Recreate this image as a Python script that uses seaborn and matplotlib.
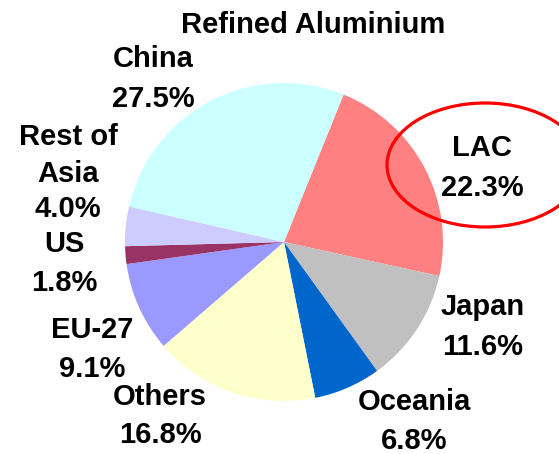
import matplotlib
matplotlib.use("Agg")
import matplotlib.pyplot as plt
import seaborn as sns
from matplotlib.patches import Ellipse

# ---- data ----
title = "Refined Aluminium"
regions = ["LAC", "Japan", "Oceania", "Others", "EU-27", "US", "Rest of\nAsia", "China"]
shares = [22.3, 11.6, 6.8, 16.8, 9.1, 1.8, 4.0, 27.5]
colors = ["#FF8080", "#C0C0C0", "#0066CC", "#FFFFCC", "#9999FF", "#993366", "#CCCCFF", "#CCFFFF"]

# ---- layout (pixel positions of label lines: x centre, baselines) ----
label_layout = {
    "LAC": (482, [156, 196]),
    "Japan": (483, [315, 355]),
    "Oceania": (414, [410, 449]),
    "Others": (160, [405, 443]),
    "EU-27": (92, [338, 377]),
    "US": (64, [252, 291]),
    "Rest of\nAsia": (68, [145, 182, 217]),
    "China": (153, [67, 107]),
}

sns.set_style("white")
plt.rcParams['font.family'] = ['Liberation Sans', 'DejaVu Sans']
plt.rcParams['text.color'] = 'black'

W, H = 559, 454
fig = plt.figure(figsize=(W / 100, H / 100), dpi=100)
fig.patch.set_facecolor("white")

cx, cy, r = 284, 242, 159
ax = fig.add_axes([(cx - r) / W, (H - cy - r) / H, 2 * r / W, 2 * r / H])
ax.pie(shares, colors=sns.color_palette(colors), startangle=68, counterclock=False,
       radius=1, wedgeprops=dict(linewidth=0))
ax.set_xlim(-1, 1)
ax.set_ylim(-1, 1)
ax.axis("off")

ov = fig.add_axes([0, 0, 1, 1])
ov.set_xlim(0, W)
ov.set_ylim(H, 0)
ov.axis("off")
ov.patch.set_alpha(0)

fs = 21
ov.text(313, 33, title, ha="center", va="baseline", fontsize=fs, fontweight="bold", color="black")

for name, val in zip(regions, shares):
    x, baselines = label_layout[name]
    lines = name.split("\n") + [f"{val:.1f}%"]
    for line, yb in zip(lines, baselines):
        ov.text(x, yb, line, ha="center", va="baseline", fontsize=fs, fontweight="bold",
                color="black")

ov.add_patch(Ellipse((485, 165), 196, 124, fill=False, edgecolor="#FF0000", linewidth=2.3,
                     clip_on=False))

fig.savefig("out.png", dpi=100)
